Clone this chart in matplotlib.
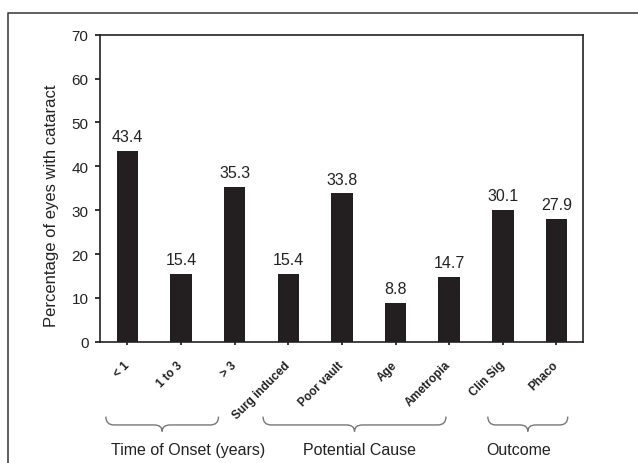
import numpy as np
import matplotlib
matplotlib.use("Agg")
import matplotlib.pyplot as plt
from matplotlib.path import Path
from matplotlib.patches import PathPatch
from matplotlib.lines import Line2D
import matplotlib.transforms as mtransforms

plt.rcParams['font.family'] = ['Liberation Sans', 'DejaVu Sans']

# data
categories = ['< 1', '1 to 3', '> 3', 'Surg induced', 'Poor vault', 'Age',
              'Ametropia', 'Clin Sig', 'Phaco']
values = [43.4, 15.4, 35.3, 15.4, 33.8, 8.8, 14.7, 30.1, 27.9]
group_names = ['Time of Onset (years)', 'Potential Cause', 'Outcome']
group_spans = [(-0.4, 1.7), (2.53, 5.94), (6.72, 8.21)]
group_label_x = [1.13, 4.33, 7.3]

BAR = '#231f20'
TXT = '#222222'

fig = plt.figure(figsize=(6.38, 4.64), dpi=100)
ax = fig.add_axes([0.1575, 0.2614, 0.7568, 0.6616])

x = np.arange(len(categories))
ax.bar(x, values, width=0.4, color=BAR, zorder=2)

for xi, v in zip(x, values):
    ax.annotate(f'{v:.1f}', (xi, v), xytext=(0, 5), textcoords='offset points',
                ha='center', va='bottom', fontsize=11.5, color=TXT)

ax.set_xlim(-0.5, len(categories) - 0.5)
ax.set_ylim(0, 70)
ax.set_yticks(np.arange(0, 71, 10))
ax.set_xticks(x)
ax.set_xticklabels(categories)
ax.tick_params(axis='y', direction='out', length=3.6, width=1.1, labelsize=11,
               labelcolor=TXT, pad=5)
ax.tick_params(axis='x', direction='out', length=2.2, width=1.1, pad=13)
plt.setp(ax.get_xticklabels(), rotation=45, ha='right', va='center',
         rotation_mode='anchor', fontsize=8.5, fontweight='bold', color=TXT)
for s in ax.spines.values():
    s.set_linewidth(1.2)
    s.set_color('#222222')

ax.set_ylabel('Percentage of eyes with cataract', fontsize=12, color=TXT)
ax.yaxis.set_label_coords(-0.086, 0.447)

# curly braces under the groups
trans = mtransforms.blended_transform_factory(ax.transData, fig.transFigure)
yt, ym, yb = 0.100, 0.082, 0.068
d = 0.15
for (x0, x1), name, lx in zip(group_spans, group_names, group_label_x):
    xm = (x0 + x1) / 2
    verts = [(x0, yt), (x0, ym), (x0 + d, ym),
             (xm - d, ym),
             (xm, ym), (xm, yb),
             (xm, ym), (xm + d, ym),
             (x1 - d, ym),
             (x1, ym), (x1, yt)]
    codes = [Path.MOVETO, Path.CURVE3, Path.CURVE3,
             Path.LINETO,
             Path.CURVE3, Path.CURVE3,
             Path.CURVE3, Path.CURVE3,
             Path.LINETO,
             Path.CURVE3, Path.CURVE3]
    patch = PathPatch(Path(verts, codes), transform=trans, fill=False,
                      edgecolor='#777777', lw=1.0, clip_on=False)
    ax.add_patch(patch)
    ax.text(lx, 0.030, name, transform=trans, ha='center', va='center',
            fontsize=11.5, color=TXT)

# outer frame (left and top edges only)
fig.add_artist(Line2D([7.5 / 638, 7.5 / 638, 1.0], [0.0, 1 - 13.5 / 464, 1 - 13.5 / 464],
                      transform=fig.transFigure, color='#444444', lw=1.2))

fig.savefig('out.png', dpi=100)
